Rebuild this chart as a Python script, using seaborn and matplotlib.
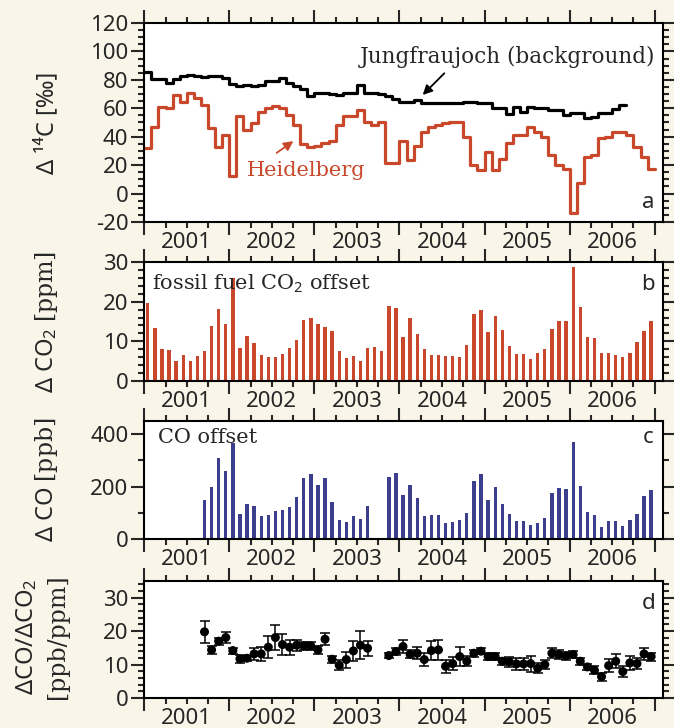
import numpy as np
import pandas as pd
import matplotlib
matplotlib.use('Agg')
import matplotlib.pyplot as plt
import seaborn as sns
from matplotlib.ticker import MultipleLocator

# monthly values, Jan 2001 .. Dec 2006
year_labels = ['2001', '2002', '2003', '2004', '2005', '2006']

heidelberg_14c = [32, 47, 61, 60, 69, 64.5, 70.5, 67.5, 62.5, 46, 33, 41,
                  12, 54.5, 44.5, 49.5, 57.5, 60.5, 61.5, 60.5, 55, 48.5, 35, 33,
                  33.5, 35.5, 37, 48.5, 54.5, 54.5, 59, 50, 48, 50.5, 21.5, 21.5,
                  37, 23.5, 33.5, 43, 46.5, 48, 49.5, 50, 50.5, 40, 20, 16.5,
                  29.5, 16.5, 24.5, 35.5, 41, 41, 46.5, 43, 40, 27, 20, 17.5,
                  -14, 7.5, 26, 27, 39, 40, 43, 43.5, 41, 33, 26, 17]

jungfraujoch_14c = [85.5, 80.5, 80.5, 77.5, 80.5, 82.5, 83.5, 83, 82, 83, 82.5, 81,
                    77, 76, 76.5, 75.5, 76.5, 79, 79, 81, 77.5, 76, 73.5, 68.5,
                    71, 70.5, 70, 69, 71, 71, 76.5, 71, 71, 70, 68.5, 66.5,
                    64.5, 64.7, 66, 63.5, 63.5, 63.5, 63.5, 63.5, 63.5, 64.7, 64.5, 63.5,
                    63.5, 60, 60, 56, 61, 57.5, 61, 60, 60, 59, 59, 55.5,
                    56.5, 56.5, 53, 54, 56.5, 57, 59.5, 62]

ffco2 = [19.7, 13.4, 8.2, 7.9, 5.0, 6.6, 5.0, 6.3, 7.6, 13.9, 18.2, 14.5,
         26.0, 8.3, 11.4, 9.5, 6.6, 6.1, 6.0, 6.8, 8.3, 10.4, 15.4, 15.8,
         14.5, 13.5, 12.5, 7.6, 5.9, 6.4, 5.1, 8.4, 8.7, 7.6, 18.8, 18.3,
         11.1, 16.0, 11.8, 8.0, 6.6, 6.6, 6.4, 6.3, 6.1, 9.2, 16.9, 18.0,
         12.3, 16.4, 12.8, 8.9, 6.7, 6.9, 5.6, 7.1, 8.2, 13.0, 15.2, 15.2,
         28.7, 18.7, 11.2, 10.9, 7.1, 7.0, 6.6, 6.1, 7.0, 9.8, 12.5, 15.2]

nan = np.nan
co_offset = [nan, nan, nan, nan, nan, nan, nan, nan, 149, 197, 308, 258,
             365, 96, 135, 124, 86, 91, 105, 109, 122, 162, 234, 247,
             205, 234, 141, 73, 65, 87, 77, 124, nan, nan, 238, 251,
             168, 206, 158, 89, 90, 92, 61, 63, 73, 99, 223, 247,
             149, 200, 133, 95, 68, 68, 54, 61, 82, 176, 196, 190,
             371, 203, 104, 90, 46, 68, 68, 48, 73, 97, 165, 186]

ratio = [nan, nan, nan, nan, nan, nan, nan, nan, 19.8, 14.4, 17.0, 18.1,
         14.2, 11.7, 11.9, 13.2, 13.2, 15.2, 18.1, 16.0, 15.2, 15.8, 15.6, 15.6,
         14.4, 17.6, 11.6, 9.8, 11.5, 14.1, 15.8, 14.9, nan, nan, 12.7, 13.9,
         15.4, 13.1, 13.4, 11.5, 14.2, 14.4, 9.5, 10.3, 12.4, 11.0, 13.4, 14.0,
         12.4, 12.4, 11.0, 10.8, 10.2, 10.2, 10.3, 8.9, 10.0, 13.4, 13.0, 12.6,
         13.0, 11.0, 9.3, 8.3, 6.4, 9.7, 11.0, 7.9, 10.5, 10.3, 13.2, 12.4]

ratio_err = [nan, nan, nan, nan, nan, nan, nan, nan, 3.2, 1.3, 1.0, 1.5,
             0.9, 1.3, 0.8, 1.7, 2.0, 3.3, 3.8, 3.0, 2.3, 1.6, 1.3, 1.3,
             1.2, 1.7, 1.1, 1.5, 2.4, 3.1, 4.2, 2.3, nan, nan, 0.8, 1.0,
             1.9, 1.2, 1.8, 2.0, 2.8, 2.9, 2.0, 2.0, 2.8, 1.5, 1.0, 0.9,
             1.0, 1.1, 1.0, 1.5, 1.8, 1.9, 2.4, 1.5, 1.4, 1.5, 1.4, 1.1,
             1.0, 1.1, 1.0, 1.2, 1.2, 2.0, 2.1, 1.7, 2.0, 1.7, 1.7, 1.2]

start = 2001
month_edge = start + np.arange(73) / 12.0
month_mid = start + (np.arange(72) + 0.5) / 12.0

red = '#c9482c'
blue = '#3b3f8e'
cream = '#f9f5e8'

sns.set_style('ticks')
plt.rcParams['font.family'] = ['Noto Sans', 'DejaVu Sans']
plt.rcParams['font.size'] = 16
plt.rcParams['axes.linewidth'] = 1.5
plt.rcParams['axes.unicode_minus'] = False
plt.rcParams['mathtext.fontset'] = 'custom'
plt.rcParams['mathtext.rm'] = 'DejaVu Serif'
plt.rcParams['mathtext.it'] = 'DejaVu Serif:italic'
plt.rcParams['mathtext.sf'] = 'Noto Sans'
serif = ['DejaVu Serif', 'DejaVu Sans']

fig = plt.figure(figsize=(6.74, 7.28), dpi=100, facecolor=cream)
left, width = 0.214, 0.770
ax_a = fig.add_axes([left, 0.6951, width, 0.2733])
ax_b = fig.add_axes([left, 0.4766, width, 0.1635])
ax_c = fig.add_axes([left, 0.2596, width, 0.1621])
ax_d = fig.add_axes([left, 0.0412, width, 0.1607])

# panel a: step lines
df_h = pd.DataFrame({'t': month_edge, 'v': heidelberg_14c + heidelberg_14c[-1:]})
df_j = pd.DataFrame({'t': month_edge[:69], 'v': jungfraujoch_14c + jungfraujoch_14c[-1:]})
sns.lineplot(data=df_h, x='t', y='v', ax=ax_a, color=red, lw=2.3, drawstyle='steps-post')
sns.lineplot(data=df_j, x='t', y='v', ax=ax_a, color='black', lw=2.3, drawstyle='steps-post')
ax_a.annotate('', xy=(2004.25, 68), xytext=(2004.55, 86),
              arrowprops=dict(arrowstyle='-|>', color='black', lw=1.3, mutation_scale=14))
ax_a.text(2005.27, 96, 'Jungfraujoch (background)', ha='center', va='center',
          fontsize=15.5, family=serif)
ax_a.annotate('', xy=(2002.78, 38), xytext=(2002.53, 27.5),
              arrowprops=dict(arrowstyle='-|>', color=red, lw=1.3, mutation_scale=14))
ax_a.text(2002.9, 16, 'Heidelberg', ha='center', va='center', color=red,
          fontsize=15, family=serif)
ax_a.set_ylim(-20, 120)
ax_a.yaxis.set_major_locator(MultipleLocator(20))
ax_a.yaxis.set_minor_locator(MultipleLocator(5))
ax_a.set_ylabel('Δ ¹⁴C [‰]')

# panel b: fossil fuel CO2 bars
sns.barplot(x=month_mid, y=ffco2, ax=ax_b, native_scale=True, width=0.47,
            color=red, saturation=1, linewidth=0, errorbar=None)
ax_b.text(0.015, 0.82, r'fossil fuel CO$_\mathsf{2}$ offset', transform=ax_b.transAxes,
          ha='left', va='center', fontsize=15, family=serif)
ax_b.set_ylim(0, 30)
ax_b.yaxis.set_major_locator(MultipleLocator(10))
ax_b.yaxis.set_minor_locator(MultipleLocator(2))
ax_b.set_ylabel(r'Δ CO$_\mathsf{2}$ $\mathrm{[ppm]}$')

# panel c: CO bars
sns.barplot(x=month_mid, y=co_offset, ax=ax_c, native_scale=True, width=0.47,
            color=blue, saturation=1, linewidth=0, errorbar=None)
ax_c.text(0.027, 0.856, 'CO offset', transform=ax_c.transAxes,
          ha='left', va='center', fontsize=15, family=serif)
ax_c.set_ylim(0, 450)
ax_c.yaxis.set_major_locator(MultipleLocator(200))
ax_c.yaxis.set_minor_locator(MultipleLocator(100))
ax_c.set_ylabel(r'Δ CO $\mathrm{[ppb]}$')

# panel d: ratio with error bars
ax_d.errorbar(month_mid, ratio, yerr=ratio_err, fmt='none', ecolor='black',
              elinewidth=1.1, capsize=3.5, capthick=1.1)
sns.scatterplot(x=month_mid, y=ratio, ax=ax_d, color='black', s=42,
                edgecolor='none', zorder=3)
ax_d.set_ylim(0, 35)
ax_d.yaxis.set_major_locator(MultipleLocator(10))
ax_d.yaxis.set_minor_locator(MultipleLocator(2))
ax_d.set_ylabel('')
fig.text(0.040, 0.125, r'ΔCO/ΔCO$_\mathsf{2}$', rotation=90, ha='center', va='center',
         fontsize=17)
fig.text(0.086, 0.125, '[ppb/ppm]', rotation=90, ha='center', va='center',
         fontsize=17, family=serif)

quarters = start + np.arange(0, 25) / 4.0
qlabels = ['' for q in quarters]
for i, lab in enumerate(year_labels):
    qlabels[4 * i + 2] = lab

letters = ['a', 'b', 'c', 'd']
letter_y = [0.10, 0.807, 0.864, 0.81]
for ax, let, ly in zip([ax_a, ax_b, ax_c, ax_d], letters, letter_y):
    ax.set_facecolor('white')
    ax.set_xlim(2001.0, 2007.1)
    ax.set_xticks(np.arange(2001, 2008))
    ax.set_xticklabels([])
    ax.set_xticks(quarters, minor=True)
    ax.set_xticklabels(qlabels, minor=True)
    ax.set_xlabel('')
    ax.tick_params(which='major', direction='out', length=9.5, width=1.5,
                   top=True, right=True, labelsize=16)
    ax.tick_params(which='minor', direction='out', length=4.5, width=1.5,
                   top=True, right=True, labelsize=16)
    ax.tick_params(axis='x', which='minor', pad=3)
    ax.tick_params(axis='y', which='major', pad=2)
    for sp in ax.spines.values():
        sp.set_visible(True)
        sp.set_linewidth(1.5)
        sp.set_color('black')
    ax.text(0.971, ly, let, transform=ax.transAxes, ha='center', va='center',
            fontsize=16)
    ax.yaxis.set_label_coords(-0.163, 0.5)
    ax.yaxis.label.set_fontsize(17)

fig.savefig('out.png', dpi=100, facecolor=cream)
